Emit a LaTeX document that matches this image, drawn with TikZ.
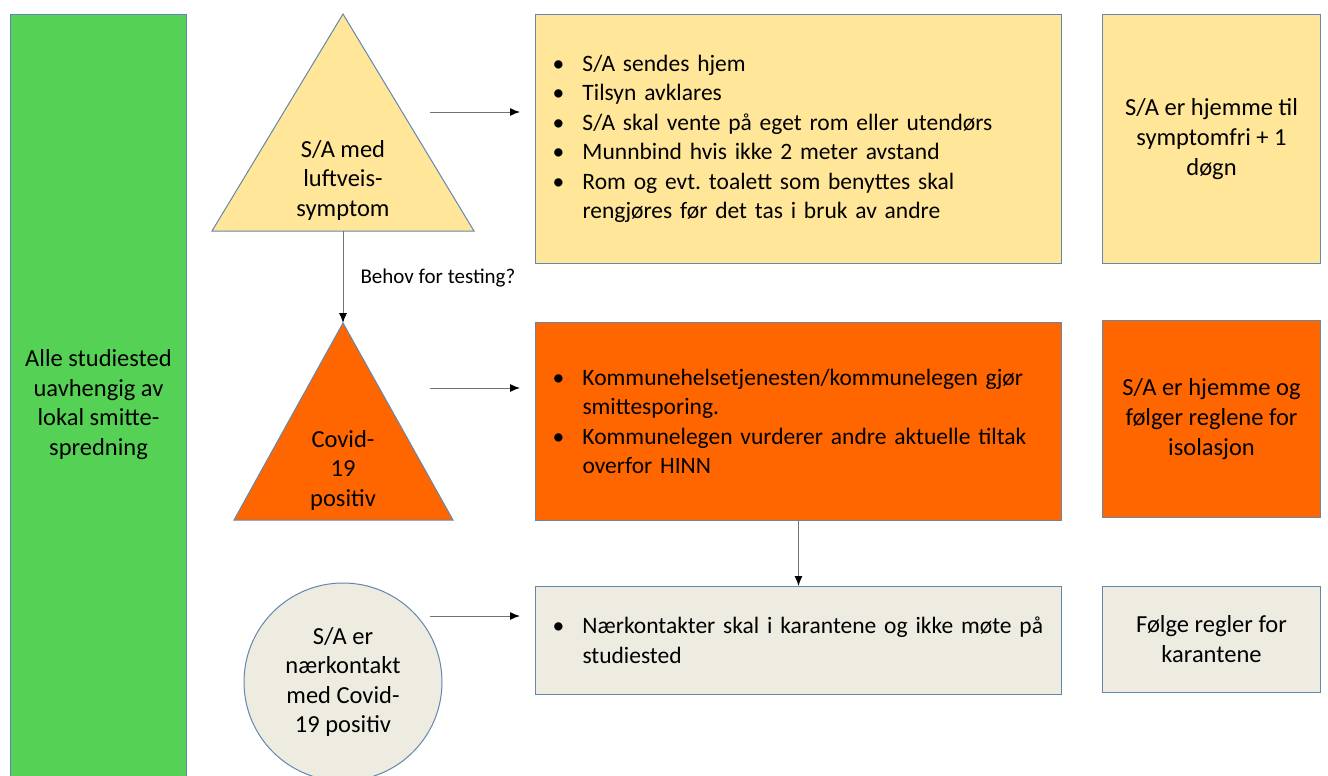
\documentclass[tikz,border=0pt]{standalone}
\usepackage{fontspec}
\setmainfont{Carlito}
\usetikzlibrary{arrows.meta}
\frenchspacing
\definecolor{mygreen}{RGB}{85,210,85}
\definecolor{myyellow}{RGB}{255,230,153}
\definecolor{myorange}{RGB}{255,102,0}
\definecolor{mybeige}{RGB}{238,235,224}
\definecolor{myborder}{RGB}{100,135,175}
\tikzstyle{box}=[draw=myborder,line width=1pt,inner sep=0pt]
\tikzstyle{tri}=[draw=myborder,line width=1pt,line join=miter]
\tikzstyle{list}=[box,anchor=north west,align=left,inner xsep=14pt,text width=498pt,
  font=\fontsize{23.5}{29.5}\selectfont]
\tikzstyle{side}=[box,anchor=north west,align=center,minimum width=218pt,
  font=\fontsize{24.5}{30}\selectfont]
\tikzstyle{label text}=[align=center,font=\fontsize{24.5}{29.5}\selectfont]
\tikzstyle{conn}=[draw=black!55,line width=1pt,-{Latex[length=10pt,width=8pt,color=black]}]
\newcommand{\bitem}{\makebox[33pt][l]{\hspace{3pt}\textbullet}}
\newcommand{\bcont}{\hspace*{33pt}}

\begin{document}
\begin{tikzpicture}[x=1pt,y=-1pt]
  \useasboundingbox (0,0) rectangle (1328,776);

  % LEFT BAR
  \node[box,fill=mygreen,anchor=north west,minimum width=176pt,minimum height=780pt,
    align=center,font=\fontsize{24.5}{29.5}\selectfont] (all) at (10,14)
    {Alle studiested\\uavhengig av\\lokal smitte-\\spredning};

  % TRIANGLES AND CIRCLE
  \coordinate (t1top) at (343,14);
  \coordinate (t1bot) at (343,231);
  \draw[tri,fill=myyellow] (t1top) -- (212,231) -- (474,231) -- cycle;
  \node[label text] (symp) at (343,180) {S/A med\\luftveis-\\symptom};

  \coordinate (t2top) at (343,323);
  \draw[tri,fill=myorange] (t2top) -- (234,520) -- (453,520) -- cycle;
  \node[label text] (pos) at (343,470) {Covid-\\19\\positiv};

  \node[box,circle,fill=mybeige,minimum size=198pt,label text] (near) at (343,682)
    {S/A er\\nærkontakt\\med Covid-\\19 positiv};

  % MEASURES
  \node[list,fill=myyellow,minimum height=249pt] (home) at (535,14)
    {\bitem S/A sendes hjem\\
     \bitem Tilsyn avklares\\
     \bitem S/A skal vente på eget rom eller utendørs\\
     \bitem Munnbind hvis ikke 2 meter avstand\\
     \bitem Rom og evt. toalett som benyttes skal\\
     \bcont rengjøres før det tas i bruk av andre};
  \node[list,fill=myorange,minimum height=198pt] (trace) at (535,322)
    {\bitem Kommunehelsetjenesten/kommunelegen gjør\\
     \bcont smittesporing.\\
     \bitem Kommunelegen vurderer andre aktuelle tiltak\\
     \bcont overfor HINN};
  \node[list,fill=mybeige,minimum height=108pt] (quar) at (535,586)
    {\bitem Nærkontakter skal i karantene og ikke møte på\\
     \bcont studiested};

  % OUTCOMES
  \node[side,fill=myyellow,minimum height=249pt] (free) at (1102,14)
    {S/A er hjemme til\\symptomfri + 1\\døgn};
  \node[side,fill=myorange,minimum height=197pt] (iso) at (1102,320)
    {S/A er hjemme og\\følger reglene for\\isolasjon};
  \node[side,fill=mybeige,minimum height=106pt] (rules) at (1102,586)
    {Følge regler for\\karantene};

  % ARROWS
  \coordinate (a1s) at (430,112);
  \coordinate (a1e) at (520,112);
  \coordinate (a2s) at (430,388);
  \coordinate (a2e) at (520,388);
  \coordinate (a3s) at (430,616);
  \coordinate (a3e) at (520,616);
  \draw[conn] (a1s) -- (a1e);
  \draw[conn] (a2s) -- (a2e);
  \draw[conn] (a3s) -- (a3e);
  \draw[conn] (t1bot) -- (t2top);
  \draw[conn] (trace.south) -- (quar.north);
  \node[anchor=west,font=\fontsize{21}{24}\selectfont] (test) at (357,278) {Behov for testing?};
\end{tikzpicture}
\end{document}
